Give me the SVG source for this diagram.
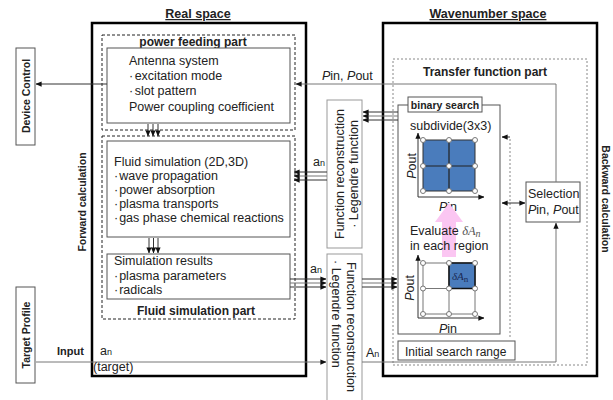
<svg xmlns="http://www.w3.org/2000/svg" width="613" height="400" viewBox="0 0 613 400">
<defs>
<style>
text{font-family:"Liberation Sans",Arial,sans-serif;fill:#222;font-size:12.5px}
.b{font-weight:bold}
.t{font-size:12px;font-weight:bold}
.s{font-size:10.5px;font-weight:bold}
.thick{fill:none;stroke:#000;stroke-width:2.5}
.dash{fill:none;stroke:#222;stroke-width:1;stroke-dasharray:3,2}
.dot{fill:none;stroke:#888;stroke-width:1;stroke-dasharray:2,2}
.box{fill:#fff;stroke:#555;stroke-width:1}
.gbox{fill:#fff;stroke:#999;stroke-width:1}
.ln{fill:none;stroke:#333;stroke-width:1}
.gl{fill:none;stroke:#777;stroke-width:1}
.pt{fill:#fff;stroke:#777;stroke-width:1}
.ser{font-family:"Liberation Serif","Times New Roman",serif;font-style:italic}
</style>
<marker id="ah" viewBox="0 0 8 8" refX="7.5" refY="4" markerWidth="6" markerHeight="6" orient="auto" markerUnits="userSpaceOnUse">
<path d="M0,0.5 L8,4 L0,7.5 Z" fill="#111"/>
</marker>
<marker id="as" viewBox="0 0 8 8" refX="0.5" refY="4" markerWidth="6" markerHeight="6" orient="auto" markerUnits="userSpaceOnUse">
<path d="M8,0.5 L0,4 L8,7.5 Z" fill="#111"/>
</marker>
</defs>
<rect width="613" height="400" fill="#fff"/>

<g id="titles">
<text x="198" y="18" text-anchor="middle" class="b" text-decoration="underline">Real space</text>
<text x="488" y="18" text-anchor="middle" class="b" text-decoration="underline">Wavenumber space</text>
<text transform="translate(86,202) rotate(-90)" text-anchor="middle" class="s">Forward calculation</text>
<text transform="translate(602,199) rotate(90)" text-anchor="middle" class="s">Backward calculation</text>
</g>

<g id="real-space">
<rect x="92" y="23" width="214" height="353" class="thick"/>
</g>
<g id="wavenumber-space">
<rect x="383" y="23" width="214" height="353" class="thick"/>
</g>

<g id="power-feeding-part">
<rect x="102" y="35" width="193" height="95" class="dash"/>
<text x="193" y="45.5" text-anchor="middle" class="t">power feeding part</text>
</g>
<g id="antenna-system">
<rect x="107" y="48" width="183" height="75" class="box"/>
<text x="129" y="65">Antenna system</text>
<text x="129" y="80">·<tspan dx="1.5">excitation mode</tspan></text>
<text x="129" y="95">·<tspan dx="1.5">slot pattern</tspan></text>
<text x="129" y="111">Power coupling coefficient</text>
</g>

<g id="fluid-simulation-part">
<rect x="102" y="136" width="193" height="183" class="dash"/>
<text x="196" y="315" text-anchor="middle" class="t">Fluid simulation part</text>
</g>
<g id="fluid-simulation">
<rect x="107" y="141" width="183" height="96" class="box"/>
<text x="114" y="166">Fluid simulation (2D,3D)</text>
<text x="114" y="180">·<tspan dx="1">wave propagation</tspan></text>
<text x="114" y="194">·<tspan dx="1">power absorption</tspan></text>
<text x="114" y="208">·<tspan dx="1">plasma transports</tspan></text>
<text x="114" y="222">·<tspan dx="1">gas phase chemical reactions</tspan></text>
</g>
<g id="simulation-results">
<rect x="107" y="254" width="183" height="45" class="box"/>
<text x="114" y="265">Simulation results</text>
<text x="114" y="280">·<tspan dx="1">plasma parameters</tspan></text>
<text x="114" y="294">·<tspan dx="1">radicals</tspan></text>
</g>

<g id="device-control">
<rect x="16" y="48" width="19" height="97" class="box"/>
<text transform="translate(30,96) rotate(-90)" text-anchor="middle" class="s">Device Control</text>
</g>
<g id="target-profile">
<rect x="16" y="287" width="19" height="96" class="box"/>
<text transform="translate(30,335) rotate(-90)" text-anchor="middle" class="s">Target Profile</text>
</g>

<g id="function-reconstruction-1">
<rect x="327" y="100" width="35" height="148" class="gbox"/>
<text transform="translate(344,174) rotate(-90)" text-anchor="middle">Function reconstruction</text>
<text transform="translate(358,174) rotate(-90)" text-anchor="middle">· Legendre function</text>
</g>
<g id="function-reconstruction-2">
<rect x="327" y="254" width="35" height="150" class="gbox"/>
<text transform="translate(347,262) rotate(90)">Function reconstruction</text>
<text transform="translate(332,260) rotate(90)">· Legendre function</text>
</g>

<g id="transfer-function-part">
<rect x="393" y="59" width="194" height="306" class="dot"/>
<text x="485" y="76" text-anchor="middle" class="t">Transfer function part</text>
</g>

<g id="binary-search">
<rect x="398" y="105" width="102" height="229" class="box"/>
<rect x="408" y="97" width="74" height="15" class="box"/>
<text x="445" y="109" text-anchor="middle" style="font-size:10.5px;font-weight:bold">binary search</text>
<text x="410" y="130">subdivide(3x3)</text>
<path d="M418,197 V133" class="ln" marker-end="url(#ah)"/>
<path d="M418,197 H484" class="ln" marker-end="url(#ah)"/>
<rect x="423" y="140" width="52" height="51" fill="#4a7cbc" stroke="#333" stroke-width="1"/>
<path d="M449,140 V191 M423,166 H475" stroke="#222" stroke-width="1.2"/>
<g class="pt">
<circle cx="423" cy="140" r="2.5"/><circle cx="449" cy="140" r="2.5"/><circle cx="475" cy="140" r="2.5"/>
<circle cx="423" cy="166" r="2.5"/><circle cx="449" cy="166" r="2.5"/><circle cx="475" cy="166" r="2.5"/>
<circle cx="423" cy="191" r="2.5"/><circle cx="449" cy="191" r="2.5"/><circle cx="475" cy="191" r="2.5"/>
</g>
<text transform="translate(416,166) rotate(-90)" text-anchor="middle"><tspan font-style="italic">P</tspan>out</text>
<text x="448" y="211" text-anchor="middle"><tspan font-style="italic">P</tspan>in</text>
<path d="M442,257 V222 H435 L449,203 L463,222 H456 V257 Z" fill="#fbc6f2"/>
<text x="410" y="235">Evaluate <tspan class="ser" fill="#555">δA</tspan><tspan class="ser" fill="#555" font-style="normal" font-size="10" dy="2">n</tspan></text>
<text x="410" y="250">in each region</text>
<path d="M418,318 V255" class="ln" marker-end="url(#ah)"/>
<path d="M418,318 H484" class="ln" marker-end="url(#ah)"/>
<rect x="423" y="263" width="52" height="51" fill="#fff" stroke="#777" stroke-width="1"/>
<path d="M449,263 V314 M423,288.5 H475" stroke="#777" stroke-width="1"/>
<rect x="449" y="263" width="26" height="25.5" fill="#4a7cbc" stroke="#111" stroke-width="1.5"/>
<text x="452" y="280" class="ser" style="font-size:11px;fill:#1a2a55">δA<tspan font-style="normal" font-size="9" dy="2">n</tspan></text>
<g class="pt">
<circle cx="423" cy="263" r="2.5"/><circle cx="449" cy="263" r="2.5"/><circle cx="475" cy="263" r="2.5"/>
<circle cx="423" cy="288.5" r="2.5"/><circle cx="449" cy="288.5" r="2.5"/><circle cx="475" cy="288.5" r="2.5"/>
<circle cx="423" cy="314" r="2.5"/><circle cx="449" cy="314" r="2.5"/><circle cx="475" cy="314" r="2.5"/>
</g>
<text transform="translate(414,288) rotate(-90)" text-anchor="middle"><tspan font-style="italic">P</tspan>out</text>
<text x="448" y="333" text-anchor="middle"><tspan font-style="italic">P</tspan>in</text>
</g>

<g id="initial-search-range">
<rect x="398" y="341" width="117" height="19" class="box"/>
<text x="405" y="356" style="font-size:12px">Initial search range</text>
</g>

<g id="selection">
<rect x="526" y="182" width="54" height="40" class="box"/>
<text x="528" y="198">Selection</text>
<text x="528" y="214"><tspan font-style="italic">P</tspan>in, <tspan font-style="italic">P</tspan>out</text>
</g>

<g id="connectors">
<path d="M107,84 H36" class="ln" marker-end="url(#ah)"/>
<path d="M556,182 V84 H296" class="gl" marker-end="url(#ah)"/>
<path d="M148,124 V136" class="ln" marker-end="url(#ah)"/>
<path d="M153,124 V136" class="ln" marker-end="url(#ah)"/>
<path d="M158,124 V136" class="ln" marker-end="url(#ah)"/>
<path d="M149,238 V253" class="ln" marker-end="url(#ah)"/>
<path d="M153.5,238 V253" class="ln" marker-end="url(#ah)"/>
<path d="M158,238 V253" class="ln" marker-end="url(#ah)"/>
<path d="M398,112 H363" class="ln" marker-end="url(#ah)"/>
<path d="M398,116 H363" class="gl" marker-end="url(#ah)"/>
<path d="M398,120 H363" class="ln" marker-end="url(#ah)"/>
<path d="M327,172 H294" class="ln" marker-end="url(#ah)"/>
<path d="M327,176 H294" class="gl" marker-end="url(#ah)"/>
<path d="M327,180 H294" class="ln" marker-end="url(#ah)"/>
<path d="M290,279 H326" class="ln" marker-end="url(#ah)"/>
<path d="M290,283 H326" class="gl" marker-end="url(#ah)"/>
<path d="M290,287 H326" class="ln" marker-end="url(#ah)"/>
<path d="M362,279 H397" class="ln" marker-end="url(#ah)"/>
<path d="M362,283 H397" class="gl" marker-end="url(#ah)"/>
<path d="M362,287 H397" class="ln" marker-end="url(#ah)"/>
<path d="M510,337 V137" class="dot"/>
<path d="M510,137 H502" class="ln" marker-end="url(#ah)"/>
<path d="M502,203 H525" class="ln" marker-start="url(#as)" marker-end="url(#ah)"/>
<path d="M362,362 H556 V223" class="gl" marker-end="url(#ah)"/>
<path d="M36,362 H326" class="gl" marker-end="url(#ah)"/>
<text x="313" y="166">a<tspan font-size="9">n</tspan></text>
<text x="310" y="273">a<tspan font-size="9">n</tspan></text>
<text x="322" y="80"><tspan font-style="italic">P</tspan>in, <tspan font-style="italic">P</tspan>out</text>
<text x="366" y="357">A<tspan font-size="9">n</tspan></text>
<text x="57" y="355" style="font-size:11px;font-weight:bold">Input</text>
<text x="100" y="355">a<tspan font-size="9">n</tspan></text>
<text x="93" y="371">(target)</text>
</g>
</svg>
